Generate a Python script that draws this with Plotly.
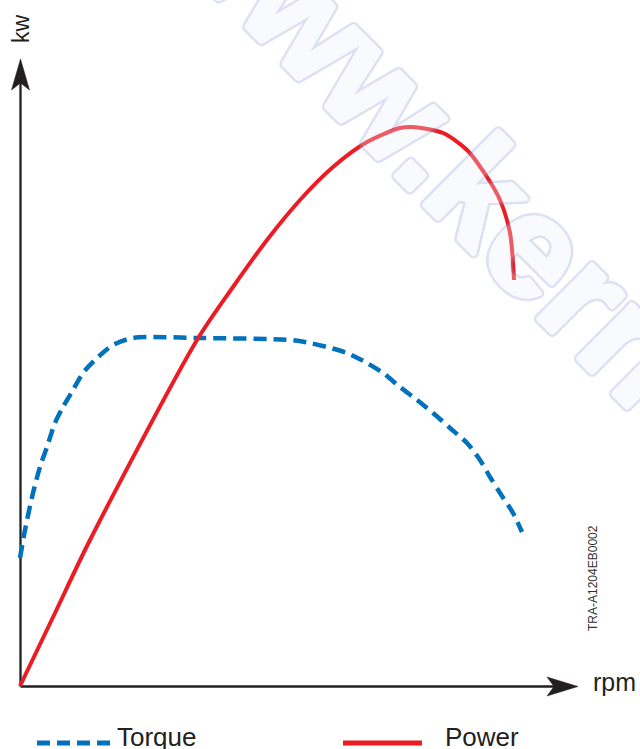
import math
import plotly.graph_objects as go

# ---- data (arbitrary units: rpm to the right of origin, kw above origin) ----
torque_rpm = [0, 5, 13, 20, 27, 35, 43, 53, 63, 77, 93, 113, 180, 270, 290, 307, 327, 347,
              363, 380, 397, 413, 430, 447, 460, 470, 480, 493, 502]
torque_val = [128, 156, 193, 219, 239, 263, 279, 296, 313, 328, 341, 348, 348, 346, 343, 339,
              333, 323, 313, 299, 286, 273, 258, 243, 226, 209, 193, 173, 154]

power_rpm = [0, 35, 70, 177, 213, 247, 280, 313, 347, 380, 393, 423, 447, 467, 480, 490, 494]
power_val = [0, 73, 146, 346, 399, 446, 486, 519, 544, 558, 559, 553, 536, 509, 486, 453, 406]

series_names = ["Torque", "Power"]
axis_labels = ["kw", "rpm"]
figure_code = "TRA-A1204EB0002"
watermark = "www.kern"

W, H = 640, 749
OX, OY = 20, 686  # pixel location of origin


def X(px):
    return px - OX


def Y(py):
    return OY - py


AXIS = "#231F20"
BLUE = "#0071BC"
RED = "#ED1C24"

fig = go.Figure()
fig.add_trace(go.Scatter(x=torque_rpm, y=torque_val, mode="lines", name=series_names[0],
                         line=dict(color=BLUE, width=4.5, dash="13px,7px", shape="spline",
                                   smoothing=0.8),
                         showlegend=False))
fig.add_trace(go.Scatter(x=power_rpm, y=power_val, mode="lines", name=series_names[1],
                         line=dict(color=RED, width=4, shape="spline", smoothing=0.8),
                         showlegend=False))

shapes = []
# axes lines
shapes.append(dict(type="line", x0=X(20.5), y0=Y(686.5), x1=X(20.5), y1=Y(80),
                   line=dict(color=AXIS, width=2.3), layer="below"))
shapes.append(dict(type="line", x0=X(20.5), y0=Y(686.5), x1=X(556), y1=Y(686.5),
                   line=dict(color=AXIS, width=2.3), layer="below"))


def path(pts):
    s = "M " + " L ".join(f"{X(a)},{Y(b)}" for a, b in pts) + " Z"
    return s


# arrow heads
shapes.append(dict(type="path", path=path([(20.5, 59), (29.5, 90), (20.5, 83), (11.5, 90)]),
                   fillcolor=AXIS, line=dict(color=AXIS, width=0.5)))
shapes.append(dict(type="path", path=path([(578, 686.5), (547, 677), (554, 686.5), (547, 696)]),
                   fillcolor=AXIS, line=dict(color=AXIS, width=0.5)))
# legend swatches
shapes.append(dict(type="line", x0=X(37), y0=Y(743), x1=X(111), y1=Y(743),
                   line=dict(color=BLUE, width=5, dash="13px,7px")))
shapes.append(dict(type="line", x0=X(343), y0=Y(743), x1=X(422), y1=Y(743),
                   line=dict(color=RED, width=5)))


def ring(r, color, n=12):
    return [f"{r*math.cos(2*math.pi*i/n):.1f}px {r*math.sin(2*math.pi*i/n):.1f}px 0 {color}"
            for i in range(n)]


FILL = "#EEF1FB"
OUT = "#8E9FDA"
shadow = ", ".join(ring(2, FILL) + ring(4.5, OUT, 16))

FONT = "Liberation Sans, Arial, sans-serif"
ann = []
ann.append(dict(x=X(428), y=Y(138), text="<b>" + watermark + "</b>", showarrow=False, textangle=45,
                xanchor="center", yanchor="middle", opacity=0.3,
                font=dict(family="Liberation Sans", size=145, color=FILL, weight=700,
                          shadow=shadow)))
ann.append(dict(x=X(21), y=Y(29), text=axis_labels[0], showarrow=False, textangle=-90,
                xanchor="center", yanchor="middle", font=dict(family=FONT, size=23, color="#231F20")))
ann.append(dict(x=X(591), y=Y(682), text=axis_labels[1], showarrow=False,
                xanchor="left", yanchor="middle", font=dict(family=FONT, size=25, color="#231F20")))
ann.append(dict(x=X(115), y=Y(737), text=series_names[0], showarrow=False,
                xanchor="left", yanchor="middle", font=dict(family=FONT, size=26, color="#231F20")))
ann.append(dict(x=X(443), y=Y(737), text=series_names[1], showarrow=False,
                xanchor="left", yanchor="middle", font=dict(family=FONT, size=26, color="#231F20")))
ann.append(dict(x=X(593), y=Y(578), text=figure_code, showarrow=False, textangle=-90,
                xanchor="center", yanchor="middle", font=dict(family=FONT, size=12, color="#333333")))

fig.update_layout(
    width=W, height=H, margin=dict(l=0, r=0, t=0, b=0),
    paper_bgcolor="white", plot_bgcolor="white",
    xaxis=dict(range=[X(0), X(W)], visible=False, fixedrange=True),
    yaxis=dict(range=[Y(H), Y(0)], visible=False, fixedrange=True),
    shapes=shapes, annotations=ann, showlegend=False,
)
fig.write_html("out.html", config={"displayModeBar": False},
               post_script="document.body.style.margin='0';document.body.style.overflow='hidden';")
